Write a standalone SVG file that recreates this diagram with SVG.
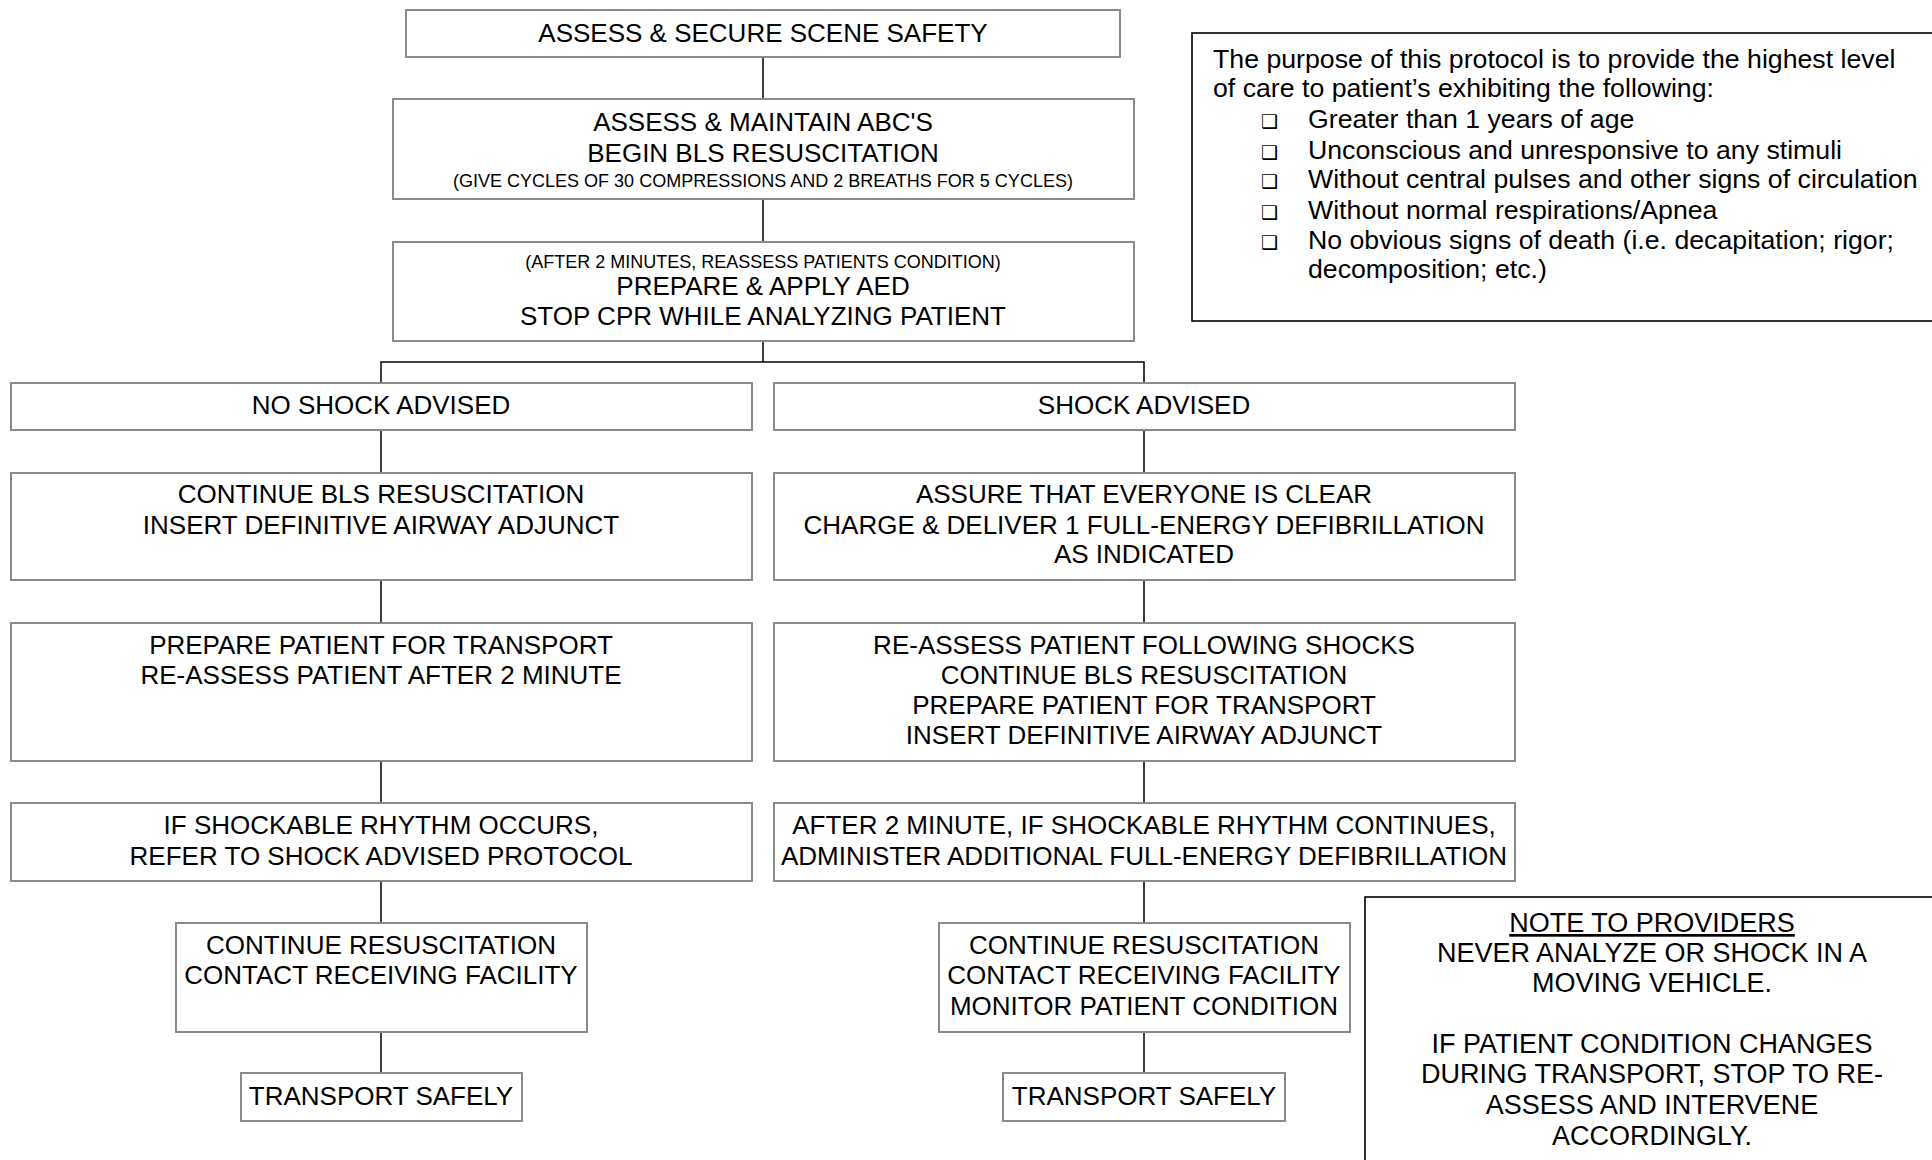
<svg xmlns="http://www.w3.org/2000/svg" width="1932" height="1160" viewBox="0 0 1932 1160">
  <style>
    .box { fill: #ffffff; stroke: #8a8a8a; stroke-width: 2; }
    .panel { fill: #ffffff; stroke: #000000; stroke-width: 1.6; }
    .wire { stroke: #000000; stroke-width: 1.5; fill: none; }
    text { font-family: "Liberation Sans", Arial, Helvetica, sans-serif; font-size: 26px; fill: #000000; }
    .c { text-anchor: middle; }
    .sm { font-size: 18px; }
    .p { font-size: 26.7px; }
    .n { font-size: 27px; }
    .chk { font-family: "DejaVu Sans", sans-serif; font-size: 19px; }
  </style>

  <rect width="1932" height="1160" fill="#ffffff"/>

  <!-- connectors -->
  <g id="connectors">
    <line class="wire" x1="763" y1="57" x2="763" y2="99"/>
    <line class="wire" x1="763" y1="199" x2="763" y2="242"/>
    <polyline class="wire" points="381,383 381,362 1144,362 1144,383"/>
    <line class="wire" x1="763" y1="341" x2="763" y2="362"/>
    <!-- left branch -->
    <line class="wire" x1="381" y1="430" x2="381" y2="473"/>
    <line class="wire" x1="381" y1="580" x2="381" y2="623"/>
    <line class="wire" x1="381" y1="761" x2="381" y2="803"/>
    <line class="wire" x1="381" y1="881" x2="381" y2="923"/>
    <line class="wire" x1="381" y1="1032" x2="381" y2="1073"/>
    <!-- right branch -->
    <line class="wire" x1="1144" y1="430" x2="1144" y2="473"/>
    <line class="wire" x1="1144" y1="580" x2="1144" y2="623"/>
    <line class="wire" x1="1144" y1="761" x2="1144" y2="803"/>
    <line class="wire" x1="1144" y1="881" x2="1144" y2="923"/>
    <line class="wire" x1="1144" y1="1032" x2="1144" y2="1073"/>
  </g>

  <g id="scene-safety">
    <rect class="box" x="406" y="10" width="714" height="47"/>
    <text class="c" x="763" y="42">ASSESS &amp; SECURE SCENE SAFETY</text>
  </g>

  <g id="abc">
    <rect class="box" x="393" y="99" width="741" height="100"/>
    <text class="c" x="763" y="131">ASSESS &amp; MAINTAIN ABC'S</text>
    <text class="c" x="763" y="162">BEGIN BLS RESUSCITATION</text>
    <text class="c sm" x="763" y="187">(GIVE CYCLES OF 30 COMPRESSIONS AND 2 BREATHS FOR 5 CYCLES)</text>
  </g>

  <g id="aed">
    <rect class="box" x="393" y="242" width="741" height="99"/>
    <text class="c sm" x="763" y="268">(AFTER 2 MINUTES, REASSESS PATIENTS CONDITION)</text>
    <text class="c" x="763" y="295">PREPARE &amp; APPLY AED</text>
    <text class="c" x="763" y="325">STOP CPR WHILE ANALYZING PATIENT</text>
  </g>

  <!-- no shock branch -->
  <g id="no-shock">
    <rect class="box" x="11" y="383" width="741" height="47"/>
    <text class="c" x="381" y="414">NO SHOCK ADVISED</text>
  </g>
  <g id="continue-bls">
    <rect class="box" x="11" y="473" width="741" height="107"/>
    <text class="c" x="381" y="503">CONTINUE BLS RESUSCITATION</text>
    <text class="c" x="381" y="534">INSERT DEFINITIVE AIRWAY ADJUNCT</text>
  </g>
  <g id="prepare-transport">
    <rect class="box" x="11" y="623" width="741" height="138"/>
    <text class="c" x="381" y="654">PREPARE PATIENT FOR TRANSPORT</text>
    <text class="c" x="381" y="684">RE-ASSESS PATIENT AFTER 2 MINUTE</text>
  </g>
  <g id="shockable-occurs">
    <rect class="box" x="11" y="803" width="741" height="78"/>
    <text class="c" x="381" y="834">IF SHOCKABLE RHYTHM OCCURS,</text>
    <text class="c" x="381" y="865">REFER TO SHOCK ADVISED PROTOCOL</text>
  </g>
  <g id="left-continue">
    <rect class="box" x="176" y="923" width="411" height="109"/>
    <text class="c" x="381" y="954">CONTINUE RESUSCITATION</text>
    <text class="c" x="381" y="984">CONTACT RECEIVING FACILITY</text>
  </g>
  <g id="left-transport">
    <rect class="box" x="241" y="1073" width="281" height="48"/>
    <text class="c" x="381" y="1105">TRANSPORT SAFELY</text>
  </g>

  <!-- shock branch -->
  <g id="shock">
    <rect class="box" x="774" y="383" width="741" height="47"/>
    <text class="c" x="1144" y="414">SHOCK ADVISED</text>
  </g>
  <g id="defib">
    <rect class="box" x="774" y="473" width="741" height="107"/>
    <text class="c" x="1144" y="503">ASSURE THAT EVERYONE IS CLEAR</text>
    <text class="c" x="1144" y="534">CHARGE &amp; DELIVER 1 FULL-ENERGY DEFIBRILLATION</text>
    <text class="c" x="1144" y="563">AS INDICATED</text>
  </g>
  <g id="reassess">
    <rect class="box" x="774" y="623" width="741" height="138"/>
    <text class="c" x="1144" y="654">RE-ASSESS PATIENT FOLLOWING SHOCKS</text>
    <text class="c" x="1144" y="684">CONTINUE BLS RESUSCITATION</text>
    <text class="c" x="1144" y="714">PREPARE PATIENT FOR TRANSPORT</text>
    <text class="c" x="1144" y="744">INSERT DEFINITIVE AIRWAY ADJUNCT</text>
  </g>
  <g id="shockable-continues">
    <rect class="box" x="774" y="803" width="741" height="78"/>
    <text class="c" x="1144" y="834">AFTER 2 MINUTE, IF SHOCKABLE RHYTHM CONTINUES,</text>
    <text class="c" x="1144" y="865">ADMINISTER ADDITIONAL FULL-ENERGY DEFIBRILLATION</text>
  </g>
  <g id="right-continue">
    <rect class="box" x="939" y="923" width="411" height="109"/>
    <text class="c" x="1144" y="954">CONTINUE RESUSCITATION</text>
    <text class="c" x="1144" y="984">CONTACT RECEIVING FACILITY</text>
    <text class="c" x="1144" y="1015">MONITOR PATIENT CONDITION</text>
  </g>
  <g id="right-transport">
    <rect class="box" x="1003" y="1073" width="282" height="48"/>
    <text class="c" x="1144" y="1105">TRANSPORT SAFELY</text>
  </g>

  <!-- protocol purpose panel -->
  <g id="purpose">
    <rect class="panel" x="1192" y="33" width="760" height="288"/>
    <text class="p" x="1213" y="68">The purpose of this protocol is to provide the highest level</text>
    <text class="p" x="1213" y="97">of care to patient’s exhibiting the following:</text>
    <text class="chk" x="1261" y="128">❑</text>
    <text class="p" x="1308" y="128">Greater than 1 years of age</text>
    <text class="chk" x="1261" y="159">❑</text>
    <text class="p" x="1308" y="159">Unconscious and unresponsive to any stimuli</text>
    <text class="chk" x="1261" y="188">❑</text>
    <text class="p" x="1308" y="188">Without central pulses and other signs of circulation</text>
    <text class="chk" x="1261" y="219">❑</text>
    <text class="p" x="1308" y="219">Without normal respirations/Apnea</text>
    <text class="chk" x="1261" y="249">❑</text>
    <text class="p" x="1308" y="249">No obvious signs of death (i.e. decapitation; rigor;</text>
    <text class="p" x="1308" y="278">decomposition; etc.)</text>
  </g>

  <!-- provider note panel -->
  <g id="note">
    <rect class="panel" x="1365" y="897" width="600" height="300"/>
    <text class="c n" x="1652" y="932" text-decoration="underline">NOTE TO PROVIDERS</text>
    <text class="c n" x="1652" y="962">NEVER ANALYZE OR SHOCK IN A</text>
    <text class="c n" x="1652" y="992">MOVING VEHICLE.</text>
    <text class="c n" x="1652" y="1053">IF PATIENT CONDITION CHANGES</text>
    <text class="c n" x="1652" y="1083">DURING TRANSPORT, STOP TO RE-</text>
    <text class="c n" x="1652" y="1114">ASSESS AND INTERVENE</text>
    <text class="c n" x="1652" y="1145">ACCORDINGLY.</text>
  </g>
</svg>
